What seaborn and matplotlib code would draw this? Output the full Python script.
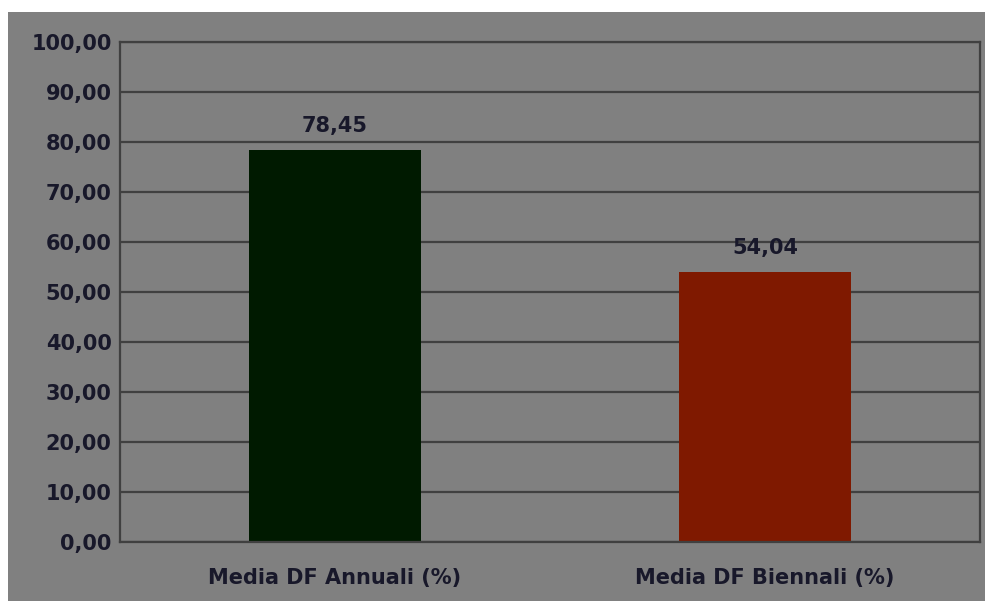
import matplotlib
matplotlib.use("Agg")
import matplotlib.pyplot as plt
import seaborn as sns
import pandas as pd

# data
categories = ["Media DF Annuali (%)", "Media DF Biennali (%)"]
values = [78.45, 54.04]
bar_colors = ["#001a00", "#7f1900"]
yticks = [0, 10, 20, 30, 40, 50, 60, 70, 80, 90, 100]

df = pd.DataFrame({"cat": categories, "val": values})

sns.set_style("white")
plt.rcParams["font.family"] = ["DejaVu Sans"]

txt_col = "#18182a"
fs = 15

fig = plt.figure(figsize=(9.85, 6.01), dpi=100)
# grey chart area with white strip at top and left
bg = fig.add_axes([8 / 985, 0, 1 - 8 / 985, 1 - 12 / 601])
bg.set_facecolor("#808080")
bg.set_xticks([]); bg.set_yticks([])
for s in bg.spines.values():
    s.set_visible(False)

ax = fig.add_axes([120 / 985, 1 - 542 / 601, 860 / 985, 500 / 601])
ax.set_facecolor("#808080")
sns.barplot(data=df, x="cat", y="val", hue="cat", palette=bar_colors,
            width=0.4, saturation=1, legend=False, edgecolor="none",
            linewidth=0, ax=ax)

ax.set_ylim(0, 100)
ax.set_yticks(yticks)
ax.set_yticklabels([f"{v:.2f}".replace(".", ",") for v in yticks])
ax.set_xlabel("")
ax.set_ylabel("")
ax.grid(axis="y", color="#404040", linewidth=1.6)
ax.set_axisbelow(True)
for s in ax.spines.values():
    s.set_visible(True)
    s.set_color("#404040")
    s.set_linewidth(1.6)
ax.tick_params(axis="both", length=0, labelsize=fs, labelcolor=txt_col)
ax.tick_params(axis="y", pad=6)
ax.tick_params(axis="x", pad=19)
for t in ax.get_xticklabels() + ax.get_yticklabels():
    t.set_fontweight("bold")

for c in ax.containers:
    ax.bar_label(c, labels=[f"{v:.2f}".replace(".", ",") for v in c.datavalues],
                 padding=10, fontsize=fs, fontweight="bold", color=txt_col)

fig.savefig("out.png", dpi=100, facecolor="white")
